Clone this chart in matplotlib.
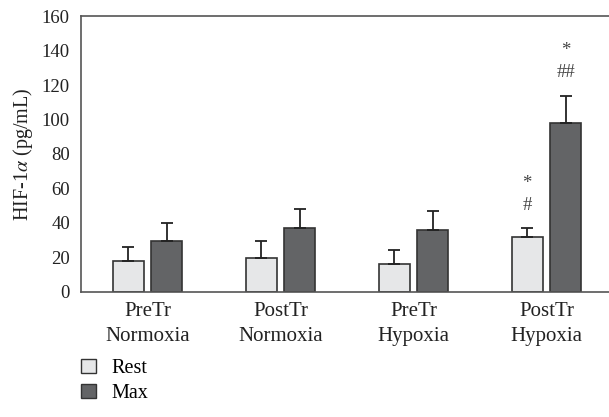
import numpy as np
import matplotlib.pyplot as plt
from matplotlib.patches import Patch

plt.rcParams['font.family'] = ['Liberation Serif', 'DejaVu Serif']
plt.rcParams['mathtext.fontset'] = 'stix'

groups = ['PreTr\nNormoxia', 'PostTr\nNormoxia', 'PreTr\nHypoxia', 'PostTr\nHypoxia']
rest_mean = [18.1, 19.7, 16.2, 31.7]
rest_err = [8.2, 10.0, 8.0, 5.2]
max_mean = [29.7, 37.3, 36.1, 97.8]
max_err = [10.1, 10.8, 11.0, 16.0]
# significance marks: (upper, lower)
rest_marks = [None, None, None, ('*', '#')]
max_marks = [None, None, None, ('*', '##')]

rest_color = '#e6e7e8'
max_color = '#636466'
edge = '#333333'

fig = plt.figure(figsize=(6.09, 4.17), dpi=100)
ax = fig.add_axes([0.133, 0.2998, 0.867, 0.6618])

x = np.arange(len(groups))
w = 0.23
off = 0.145
err_kw = dict(ecolor='#222222', elinewidth=1.3, capsize=4, capthick=1.3)

ax.bar(x - off, rest_mean, w, color=rest_color, edgecolor=edge, linewidth=1.2,
       yerr=[np.zeros(4), rest_err], error_kw=err_kw, label='Rest')
ax.bar(x + off, max_mean, w, color=max_color, edgecolor=edge, linewidth=1.2,
       yerr=[np.zeros(4), max_err], error_kw=err_kw, label='Max')


def put_marks(xpos, top, marks):
    if marks is None:
        return
    upper, lower = marks
    ax.text(xpos, top + 13.5, lower, ha='center', va='center',
            fontsize=13.5, color='#444444')
    ax.text(xpos, top + 26.0, upper, ha='center', va='center',
            fontsize=13.5, color='#444444')


for i in range(len(groups)):
    put_marks(x[i] - off, rest_mean[i] + rest_err[i], rest_marks[i])
    put_marks(x[i] + off, max_mean[i] + max_err[i], max_marks[i])

ax.set_xlim(-0.5, 3.47)
ax.set_ylim(0, 160)
ax.set_yticks(np.arange(0, 161, 20))
ax.set_xticks(x)
ax.set_xticklabels(groups, linespacing=1.45, fontsize=15)
ax.tick_params(length=0, colors='#222222')
ax.tick_params(axis='y', labelsize=13.5, pad=8)
ax.tick_params(axis='x', pad=7)
ax.set_ylabel(r'HIF-1$\alpha$ (pg/mL)', fontsize=14.5, color='#222222', labelpad=5)

for s in ['left', 'bottom', 'top']:
    ax.spines[s].set_color('#555555')
    ax.spines[s].set_linewidth(1.2)
ax.spines['right'].set_visible(False)

handles = [Patch(facecolor=rest_color, edgecolor=edge, label='Rest'),
           Patch(facecolor=max_color, edgecolor=edge, label='Max')]
fig.legend(handles=handles, loc='upper left', bbox_to_anchor=(0.133, 0.14),
           frameon=False, fontsize=14.5, borderpad=0, borderaxespad=0,
           handlelength=0.75, handleheight=0.7, handletextpad=0.75,
           labelspacing=0.3)

fig.savefig('out.png', dpi=100)
